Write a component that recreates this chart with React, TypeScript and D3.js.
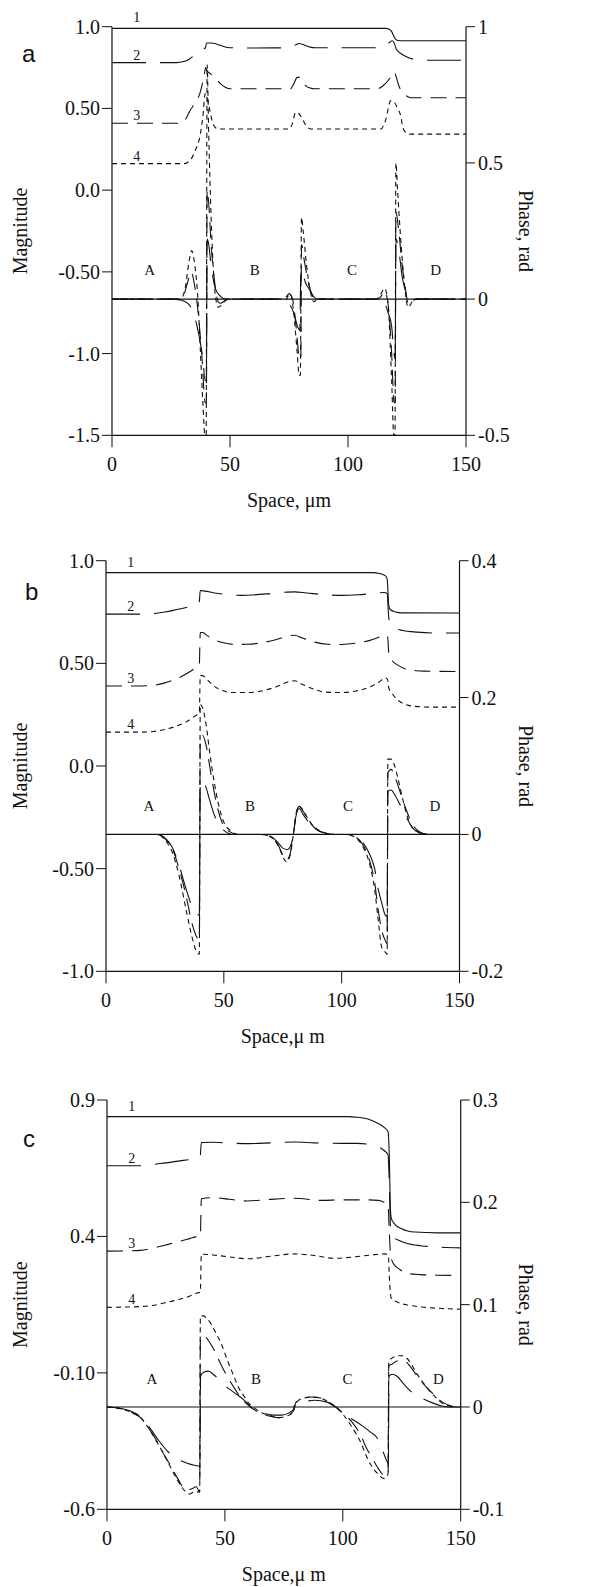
import React from "react";
import * as d3 from "d3";

type P = [number, number];

// ---------- shared ----------
const xTicks = [0, 50, 100, 150];
const regionLetters = ["A", "B", "C", "D"];
const curveNames = ["1", "2", "3", "4"];

// ---------- panel a ----------
const aMagTicks = [1.0, 0.5, 0.0, -0.5, -1.0, -1.5];
const aMagTickLabels = ["1.0", "0.50", "0.0", "-0.50", "-1.0", "-1.5"];
const aPhaseTicks = [1, 0.5, 0, -0.5];
const aPhaseTickLabels = ["1", "0.5", "0", "-0.5"];
const aRegionX = [16, 60.5, 101.7, 137.2];
const aRegionPhase = 0.107;

const aMag1: P[] = [[0, 0.99], [116, 0.99], [117.5, 0.985], [118.5, 0.97], [119.5, 0.94], [120.5, 0.918], [122, 0.914], [150, 0.914]];
const aMag2: P[] = [[0, 0.78], [27.5, 0.78], [30, 0.785], [32, 0.795], [34, 0.815], [36, 0.838], [38.1, 0.862], [39.6, 0.87], [40, 0.9], [42, 0.9], [43.5, 0.897], [45, 0.89], [47, 0.88], [50, 0.871], [60, 0.87], [74, 0.871], [76, 0.878], [78, 0.89], [79.2, 0.897], [80.5, 0.893], [82, 0.885], [84, 0.875], [86, 0.871], [112.5, 0.871], [114.5, 0.876], [116.5, 0.89], [118.8, 0.914], [119.6, 0.9], [120.5, 0.86], [122.4, 0.836], [125, 0.815], [128, 0.8], [131, 0.795], [150, 0.795]];
const aMag3: P[] = [[0, 0.409], [28.9, 0.409], [31, 0.43], [33.1, 0.487], [35, 0.53], [37.4, 0.6], [39, 0.7], [39.7, 0.75], [40.2, 0.73], [41, 0.72], [43.5, 0.692], [46, 0.65], [48, 0.63], [50.1, 0.62], [75.6, 0.62], [77, 0.65], [78.5, 0.69], [79.5, 0.69], [80.5, 0.67], [82, 0.64], [84, 0.625], [85.6, 0.62], [112.5, 0.62], [115, 0.64], [117.5, 0.68], [119.5, 0.723], [120.5, 0.69], [121.5, 0.64], [123, 0.6], [125, 0.575], [127, 0.565], [150, 0.565]];
const aMag4: P[] = [[0, 0.162], [31, 0.162], [32.5, 0.175], [33.9, 0.199], [35.5, 0.25], [37.4, 0.34], [38.5, 0.45], [39.5, 0.589], [40.2, 0.58], [41, 0.52], [42, 0.45], [43, 0.4], [44, 0.38], [45, 0.374], [75, 0.374], [76.5, 0.41], [77.8, 0.476], [79, 0.47], [80.5, 0.44], [82, 0.4], [84.2, 0.374], [113.9, 0.374], [116, 0.43], [118.1, 0.548], [119.5, 0.54], [121, 0.5], [122.4, 0.45], [123, 0.4], [124, 0.36], [126, 0.343], [150, 0.343]];

const aPh1: P[] = [[0, 0], [150, 0]];
const aPh2: P[] = [[0, 0], [25, 0], [29, -0.003], [32, -0.015], [34, -0.04], [35.5, -0.08], [37, -0.14], [38.5, -0.22], [39.5, -0.3], [40, -0.3], [40.3, 0.22], [41, 0.2], [42, 0.12], [43, 0.07], [44, 0.035], [46, 0.01], [48, 0], [70, 0], [73, -0.005], [75, -0.017], [77, -0.05], [78.6, -0.1], [79.6, -0.115], [80, 0.105], [81, 0.09], [82, 0.06], [83.5, 0.038], [85, 0.015], [87, 0], [111, 0], [113, -0.005], [115.5, -0.017], [117, -0.05], [118.5, -0.1], [119.5, -0.2], [120, -0.22], [120.3, 0.22], [121.5, 0.18], [123, 0.08], [124, 0.04], [126, 0.008], [129, 0], [150, 0]];
const aPh3: P[] = [[0, 0], [27, 0], [30, 0.01], [32, 0.06], [33.5, 0.1], [35, 0.05], [36.5, -0.05], [38, -0.2], [39.5, -0.38], [40, -0.38], [40.3, 0.4], [41, 0.35], [42, 0.2], [43, 0.1], [44, 0.03], [45, -0.01], [46, -0.015], [48, -0.005], [50, 0], [72, 0], [74, 0.01], [75, 0.02], [76.5, 0], [78, -0.1], [79.5, -0.22], [80, -0.22], [80.3, 0.2], [81.5, 0.14], [83, 0.07], [85, 0.01], [86.5, -0.01], [88, 0], [112, 0], [114, 0.01], [115.5, 0.03], [117, -0.02], [118.5, -0.2], [119.5, -0.38], [120, -0.38], [120.3, 0.32], [121.5, 0.25], [123, 0.12], [124.5, 0.03], [125.5, -0.02], [127, -0.01], [129, 0], [150, 0]];
const aPh4: P[] = [[0, 0], [29, 0], [31, 0.04], [32.5, 0.13], [33.8, 0.178], [35, 0.13], [36.4, 0], [37.5, -0.2], [38.5, -0.38], [39.4, -0.5], [39.9, -0.5], [40.3, 0.86], [41, 0.6], [42, 0.3], [43, 0.1], [44, 0], [45, -0.03], [46, -0.025], [47.5, -0.01], [49, 0], [74, 0], [75, 0.02], [76, 0.01], [77, -0.05], [78.5, -0.2], [79.3, -0.28], [79.8, -0.28], [80.3, 0.3], [81, 0.25], [82.5, 0.12], [84, 0.03], [85.5, -0.01], [87, 0], [112, 0], [114, 0.02], [115.5, 0.04], [117, -0.02], [118.5, -0.3], [119.4, -0.5], [119.9, -0.5], [120.3, 0.5], [121, 0.4], [122.5, 0.2], [124, 0.05], [125.4, -0.03], [126.5, -0.02], [128, 0], [150, 0]];

// ---------- panel b ----------
const bMagTicks = [1.0, 0.5, 0.0, -0.5, -1.0];
const bMagTickLabels = ["1.0", "0.50", "0.0", "-0.50", "-1.0"];
const bPhaseTicks = [0.4, 0.2, 0, -0.2];
const bPhaseTickLabels = ["0.4", "0.2", "0", "-0.2"];
const bRegionX = [18.2, 61.1, 102.7, 139.6];
const bRegionPhase = 0.042;

const bMag1: P[] = [[0, 0.942], [113, 0.942], [116, 0.938], [118.6, 0.926], [119.3, 0.91], [120, 0.78], [120.7, 0.761], [123, 0.75], [125, 0.746], [150, 0.745]];
const bMag2: P[] = [[0, 0.74], [15, 0.74], [20, 0.742], [25, 0.75], [30, 0.762], [35, 0.775], [38.5, 0.787], [39.5, 0.79], [40, 0.855], [42, 0.852], [46, 0.843], [52, 0.835], [57, 0.831], [62, 0.833], [70, 0.84], [77, 0.847], [80, 0.848], [85, 0.843], [92, 0.835], [100, 0.831], [107, 0.834], [113, 0.84], [118, 0.845], [119.3, 0.84], [120, 0.72], [120.7, 0.69], [122, 0.675], [126, 0.66], [132, 0.652], [140, 0.648], [150, 0.648]];
const bMag3: P[] = [[0, 0.39], [15, 0.39], [20, 0.393], [25, 0.405], [30, 0.425], [35, 0.455], [38, 0.478], [39.6, 0.49], [40, 0.65], [41, 0.65], [43, 0.635], [46, 0.615], [50, 0.6], [55, 0.592], [60, 0.593], [66, 0.6], [72, 0.615], [78, 0.635], [80, 0.637], [83, 0.625], [88, 0.605], [94, 0.593], [100, 0.592], [106, 0.598], [112, 0.612], [116, 0.628], [118.5, 0.638], [119.5, 0.63], [120, 0.55], [121, 0.52], [124, 0.49], [128, 0.47], [135, 0.462], [150, 0.46]];
const bMag4: P[] = [[0, 0.165], [15, 0.165], [20, 0.168], [25, 0.178], [30, 0.195], [34, 0.215], [37.9, 0.245], [39.6, 0.26], [40, 0.44], [41, 0.44], [43, 0.42], [45.7, 0.39], [49, 0.37], [53, 0.358], [60, 0.358], [66, 0.365], [72, 0.385], [78, 0.412], [80, 0.415], [83, 0.4], [88, 0.375], [93, 0.36], [100, 0.358], [106, 0.365], [112, 0.385], [116, 0.41], [118.6, 0.43], [119.5, 0.42], [120, 0.38], [121, 0.36], [123, 0.33], [126, 0.305], [130, 0.292], [137, 0.287], [150, 0.287]];

const bPh1: P[] = [[0, 0], [150, 0]];
const bPh2: P[] = [[0, 0], [22, 0], [25, -0.005], [28, -0.018], [31, -0.045], [34, -0.08], [36.5, -0.105], [38.5, -0.116], [39.6, -0.118], [40, 0.078], [41, 0.078], [42.5, 0.068], [44, 0.05], [46, 0.028], [48, 0.014], [50, 0.006], [54, 0], [66, 0], [70, -0.003], [73, -0.012], [75, -0.02], [77, -0.022], [78.5, -0.015], [79.5, 0], [80.5, 0.025], [82, 0.038], [83.5, 0.03], [86, 0.018], [89, 0.008], [93, 0.002], [97, 0], [102, 0], [106, -0.003], [109, -0.012], [112, -0.03], [114, -0.05], [115.5, -0.08], [117, -0.1], [118.5, -0.118], [119.3, -0.12], [119.6, 0.063], [121, 0.065], [122.5, 0.058], [125, 0.042], [127.5, 0.025], [130, 0.01], [133, 0.002], [136, 0], [150, 0]];
const bPh3: P[] = [[0, 0], [22, 0], [25, -0.006], [28, -0.02], [31, -0.05], [34, -0.09], [36.5, -0.13], [38.5, -0.15], [39.6, -0.155], [40, 0.14], [41, 0.145], [42.5, 0.13], [44, 0.1], [46, 0.06], [48, 0.03], [50, 0.012], [53, 0.003], [56, 0], [66, 0], [70, -0.004], [73, -0.015], [75, -0.03], [76.5, -0.038], [78, -0.03], [79.5, 0], [81, 0.035], [82, 0.041], [83.5, 0.035], [86, 0.02], [89, 0.008], [93, 0.002], [97, 0], [102, 0], [106, -0.004], [109, -0.015], [112, -0.04], [114, -0.07], [115.5, -0.11], [117, -0.14], [118.5, -0.155], [119.3, -0.16], [119.6, 0.09], [121, 0.095], [122.5, 0.085], [125, 0.06], [127.5, 0.035], [130, 0.015], [133, 0.004], [137, 0], [150, 0]];
const bPh4: P[] = [[0, 0], [22, 0], [25, -0.008], [28, -0.025], [31, -0.06], [34, -0.11], [36.5, -0.15], [38.5, -0.172], [39.6, -0.175], [40, 0.19], [41, 0.185], [42.5, 0.16], [44, 0.12], [46, 0.075], [48, 0.04], [50, 0.018], [53, 0.005], [56, 0], [66, 0], [70, -0.004], [73, -0.016], [75, -0.032], [76.5, -0.04], [78, -0.032], [79.5, 0], [81, 0.036], [82, 0.041], [83.5, 0.036], [86, 0.021], [89, 0.009], [93, 0.002], [97, 0], [102, 0], [106, -0.005], [109, -0.018], [112, -0.045], [114, -0.08], [115.5, -0.125], [117, -0.165], [118.5, -0.172], [119.3, -0.175], [119.6, 0.11], [121, 0.11], [122.5, 0.1], [124, 0.08], [126, 0.05], [128, 0.025], [130, 0.01], [133, 0.003], [137, 0], [150, 0]];

// ---------- panel c ----------
const cMagTicks = [0.9, 0.4, -0.1, -0.6];
const cMagTickLabels = ["0.9", "0.4", "-0.10", "-0.6"];
const cPhaseTicks = [0.3, 0.2, 0.1, 0, -0.1];
const cPhaseTickLabels = ["0.3", "0.2", "0.1", "0", "-0.1"];
const cRegionX = [19, 63.2, 102, 140.5];
const cRegionPhase = 0.027;

const cMag1: P[] = [[0, 0.839], [102, 0.839], [106, 0.837], [109.3, 0.833], [112, 0.826], [115, 0.814], [117.5, 0.8], [119.2, 0.784], [119.7, 0.7], [120.2, 0.5], [120.6, 0.465], [122, 0.445], [124.9, 0.428], [127.5, 0.42], [130.5, 0.416], [140, 0.413], [150, 0.413]];
const cMag2: P[] = [[0, 0.659], [14, 0.659], [22.7, 0.667], [30, 0.676], [37.6, 0.686], [39.5, 0.69], [40, 0.744], [45, 0.745], [52, 0.742], [60, 0.74], [70, 0.743], [79.5, 0.746], [88, 0.743], [100, 0.741], [106, 0.741], [110.7, 0.738], [113, 0.734], [115, 0.728], [117.5, 0.715], [119.2, 0.698], [119.7, 0.6], [120.3, 0.42], [121, 0.4], [124, 0.385], [127, 0.375], [133, 0.366], [140.5, 0.361], [150, 0.358]];
const cMag3: P[] = [[0, 0.346], [8, 0.347], [14.2, 0.349], [20, 0.358], [24.1, 0.367], [30, 0.38], [35, 0.392], [38.3, 0.4], [39.6, 0.402], [40, 0.538], [45.4, 0.542], [52, 0.536], [59.6, 0.53], [68, 0.535], [79.5, 0.54], [90.8, 0.532], [100, 0.534], [110, 0.534], [115, 0.532], [117.5, 0.525], [119.2, 0.514], [119.7, 0.42], [120.3, 0.33], [121.5, 0.3], [124, 0.28], [127, 0.265], [133, 0.26], [140, 0.258], [150, 0.257]];
const cMag4: P[] = [[0, 0.14], [7, 0.141], [14.2, 0.143], [20, 0.148], [24.1, 0.156], [30, 0.168], [35, 0.181], [38.3, 0.193], [39.6, 0.196], [40, 0.335], [45, 0.332], [52, 0.325], [59.6, 0.318], [70, 0.328], [79.5, 0.336], [88, 0.33], [96, 0.32], [105, 0.325], [112, 0.332], [117.8, 0.336], [119.3, 0.33], [119.8, 0.24], [120.5, 0.175], [123.5, 0.158], [128, 0.148], [135, 0.14], [142, 0.136], [150, 0.133]];

const cPh1: P[] = [[0, 0], [150, 0]];
const cPh2: P[] = [[0, 0], [5, -0.001], [10, -0.004], [14.5, -0.01], [18, -0.02], [22, -0.033], [26, -0.044], [30, -0.051], [34, -0.055], [37, -0.057], [39.4, -0.058], [39.7, 0.03], [41, 0.034], [43, 0.035], [45.5, 0.031], [48, 0.026], [50.5, 0.02], [54, 0.014], [58, 0.007], [61, 0], [64, -0.004], [67, -0.0065], [71, -0.008], [74, -0.008], [77, -0.006], [79.2, -0.002], [80, 0.002], [83.4, 0.005], [88.2, 0.0065], [93, 0.005], [97, 0], [100, -0.005], [104, -0.012], [108, -0.018], [112, -0.025], [114.5, -0.03], [116.5, -0.04], [118.5, -0.052], [119.3, -0.055], [119.6, 0.03], [121, 0.032], [123, 0.03], [126, 0.022], [130, 0.013], [134, 0.008], [138, 0.004], [142, 0.001], [145, 0], [150, 0]];
const cPh3: P[] = [[0, 0], [5, -0.001], [10, -0.005], [14.5, -0.011], [18, -0.022], [21.6, -0.035], [25, -0.05], [27.2, -0.058], [30, -0.07], [33.5, -0.081], [36, -0.08], [37.8, -0.078], [39.3, -0.083], [39.6, 0.067], [41, 0.07], [43, 0.065], [45.6, 0.055], [48, 0.043], [51.2, 0.029], [54.7, 0.016], [57.5, 0.007], [59.7, 0.002], [62, -0.002], [65.3, -0.006], [69, -0.009], [72.4, -0.0104], [76, -0.009], [79, -0.004], [79.4, -0.002], [80, 0.004], [83, 0.008], [86.5, 0.0097], [90, 0.009], [93, 0.006], [97, 0], [100, -0.006], [104, -0.015], [107.7, -0.028], [110, -0.04], [112.5, -0.05], [115, -0.06], [117, -0.066], [118.7, -0.067], [119.2, -0.066], [119.5, 0.04], [121, 0.042], [123, 0.045], [126, 0.045], [128.8, 0.039], [131, 0.032], [133, 0.026], [136, 0.018], [138.7, 0.012], [142, 0.005], [146, 0.001], [148, 0], [150, 0]];
const cPh4: P[] = [[0, 0], [10, -0.005], [14.5, -0.011], [18, -0.022], [21.6, -0.036], [25, -0.05], [27.2, -0.06], [30, -0.072], [33, -0.082], [35, -0.085], [37, -0.083], [39.3, -0.083], [39.6, 0.089], [41, 0.089], [42.5, 0.086], [44.2, 0.081], [46, 0.073], [48.4, 0.062], [51, 0.046], [54, 0.029], [56, 0.018], [58.3, 0.01], [60, 0.004], [62, 0], [65, -0.005], [69, -0.008], [72.4, -0.0104], [76, -0.009], [79, -0.005], [79.5, 0.002], [81, 0.006], [84, 0.009], [87, 0.0097], [90, 0.009], [94, 0.005], [97, 0], [100, -0.007], [104, -0.02], [107.7, -0.035], [110, -0.048], [112, -0.057], [114.7, -0.065], [117.5, -0.07], [118.7, -0.068], [119.2, -0.065], [119.5, 0.045], [121, 0.048], [123.2, 0.05], [125, 0.05], [127, 0.048], [129, 0.042], [131, 0.034], [133, 0.027], [136, 0.018], [138.7, 0.011], [142, 0.004], [145.5, 0.001], [147, 0], [150, 0]];

// ---------- styles ----------
const DASH = ["", "34,14", "16,9", "5,4"];
const SERIF = "'Liberation Serif', 'Times New Roman', serif";
const SANS = "'Liberation Sans', Arial, sans-serif";

interface PanelCfg {
  letter: string;
  xLabel: string;
  x0: number; x1: number; yTop: number; yBot: number;
  magDomain: [number, number];
  phaseDomain: [number, number];
  magTicks: number[]; magTickLabels: string[];
  phaseTicks: number[]; phaseTickLabels: string[];
  mags: P[][]; phases: P[][];
  regionX: number[]; regionPhase: number;
  letterPos: [number, number];
}

const panels: PanelCfg[] = [
  {
    letter: "a", xLabel: "Space, \u03bcm",
    x0: 112, x1: 466, yTop: 26.7, yBot: 435.3,
    magDomain: [-1.5, 1.0], phaseDomain: [-0.5, 1],
    magTicks: aMagTicks, magTickLabels: aMagTickLabels,
    phaseTicks: aPhaseTicks, phaseTickLabels: aPhaseTickLabels,
    mags: [aMag1, aMag2, aMag3, aMag4], phases: [aPh1, aPh2, aPh3, aPh4],
    regionX: aRegionX, regionPhase: aRegionPhase,
    letterPos: [22, 62],
  },
  {
    letter: "b", xLabel: "Space,\u03bc m",
    x0: 106, x1: 459.5, yTop: 560.7, yBot: 971.3,
    magDomain: [-1, 1], phaseDomain: [-0.2, 0.4],
    magTicks: bMagTicks, magTickLabels: bMagTickLabels,
    phaseTicks: bPhaseTicks, phaseTickLabels: bPhaseTickLabels,
    mags: [bMag1, bMag2, bMag3, bMag4], phases: [bPh1, bPh2, bPh3, bPh4],
    regionX: bRegionX, regionPhase: bRegionPhase,
    letterPos: [25, 600],
  },
  {
    letter: "c", xLabel: "Space,\u03bc m",
    x0: 107, x1: 460.7, yTop: 1100, yBot: 1509.3,
    magDomain: [-0.6, 0.9], phaseDomain: [-0.1, 0.3],
    magTicks: cMagTicks, magTickLabels: cMagTickLabels,
    phaseTicks: cPhaseTicks, phaseTickLabels: cPhaseTickLabels,
    mags: [cMag1, cMag2, cMag3, cMag4], phases: [cPh1, cPh2, cPh3, cPh4],
    regionX: cRegionX, regionPhase: cRegionPhase,
    letterPos: [23, 1147],
  },
];

function Panel({ cfg }: { cfg: PanelCfg }) {
  const x = d3.scaleLinear().domain([0, 150]).range([cfg.x0, cfg.x1]);
  const yM = d3.scaleLinear().domain(cfg.magDomain).range([cfg.yBot, cfg.yTop]);
  const yP = d3.scaleLinear().domain(cfg.phaseDomain).range([cfg.yBot, cfg.yTop]);
  const lineM = d3.line<P>().x((d) => x(d[0])).y((d) => yM(d[1])).curve(d3.curveMonotoneX);
  const lineP = d3.line<P>().x((d) => x(d[0])).y((d) => yP(d[1])).curve(d3.curveMonotoneX);
  const midY = (cfg.yTop + cfg.yBot) / 2;
  const axisColor = "#111";
  return (
    <g>
      {/* axes */}
      <line x1={cfg.x0} x2={cfg.x0} y1={cfg.yTop} y2={cfg.yBot} stroke={axisColor} strokeWidth={1.2} />
      <line x1={cfg.x1} x2={cfg.x1} y1={cfg.yTop} y2={cfg.yBot} stroke={axisColor} strokeWidth={1.2} />
      <line x1={cfg.x0} x2={cfg.x1} y1={cfg.yBot} y2={cfg.yBot} stroke={axisColor} strokeWidth={1.2} />
      {cfg.magTicks.map((t, i) => (
        <g key={"m" + i}>
          <line x1={cfg.x0 - 10} x2={cfg.x0} y1={yM(t)} y2={yM(t)} stroke={axisColor} strokeWidth={1} />
          <text x={cfg.x0 - 12} y={yM(t)} textAnchor="end" dominantBaseline="central" fontFamily={SERIF} fontSize={20} fill="#111">
            {cfg.magTickLabels[i]}
          </text>
        </g>
      ))}
      {cfg.phaseTicks.map((t, i) => (
        <g key={"p" + i}>
          <line x1={cfg.x1} x2={cfg.x1 + 9} y1={yP(t)} y2={yP(t)} stroke={axisColor} strokeWidth={1} />
          <text x={cfg.x1 + 12} y={yP(t)} textAnchor="start" dominantBaseline="central" fontFamily={SERIF} fontSize={20} fill="#111">
            {cfg.phaseTickLabels[i]}
          </text>
        </g>
      ))}
      {xTicks.map((t) => (
        <g key={"x" + t}>
          <line x1={x(t)} x2={x(t)} y1={cfg.yBot} y2={cfg.yBot + 12} stroke={axisColor} strokeWidth={1} />
          <text x={x(t)} y={cfg.yBot + 36} textAnchor="middle" fontFamily={SERIF} fontSize={20} fill="#111">
            {t}
          </text>
        </g>
      ))}
      {/* axis titles */}
      <text x={(cfg.x0 + cfg.x1) / 2} y={cfg.yBot + 72} textAnchor="middle" fontFamily={SERIF} fontSize={20} fill="#111">
        {cfg.xLabel}
      </text>
      <text transform={`translate(27,${midY}) rotate(-90)`} textAnchor="middle" fontFamily={SERIF} fontSize={20} fill="#111">
        Magnitude
      </text>
      <text transform={`translate(519,${midY}) rotate(90)`} textAnchor="middle" fontFamily={SERIF} fontSize={20} fill="#111">
        Phase, rad
      </text>
      <text x={cfg.letterPos[0]} y={cfg.letterPos[1]} fontFamily={SANS} fontSize={24} fill="#111">
        {cfg.letter}
      </text>
      {/* phase curves */}
      {cfg.phases.map((s, i) => (
        <path key={"ph" + i} d={lineP(s) || ""} fill="none" stroke="#111" strokeWidth={i === 0 ? 1.2 : 1.1} strokeDasharray={DASH[i] || undefined} />
      ))}
      {/* magnitude curves */}
      {cfg.mags.map((s, i) => (
        <path key={"mg" + i} d={lineM(s) || ""} fill="none" stroke="#111" strokeWidth={1.1} strokeDasharray={DASH[i] || undefined} />
      ))}
      {/* curve labels */}
      {cfg.mags.map((s, i) => (
        <text key={"cl" + i} x={x(10.5)} y={yM(s[0][1]) - (i === 0 ? 6 : 3)} textAnchor="middle" fontFamily={SERIF} fontSize={14} fill="#111">
          {curveNames[i]}
        </text>
      ))}
      {/* region letters */}
      {cfg.regionX.map((rx, i) => (
        <text key={"r" + i} x={x(rx)} y={yP(cfg.regionPhase)} textAnchor="middle" dominantBaseline="central" fontFamily={SERIF} fontSize={15} fill="#111">
          {regionLetters[i]}
        </text>
      ))}
    </g>
  );
}

export default function App() {
  return (
    <svg width={608} height={1587} viewBox="0 0 608 1587" style={{ position: "absolute", left: 0, top: 0, display: "block", background: "#fff" }}>
      <rect x={0} y={0} width={608} height={1587} fill="#fff" />
      {panels.map((p) => (
        <Panel key={p.letter} cfg={p} />
      ))}
    </svg>
  );
}
